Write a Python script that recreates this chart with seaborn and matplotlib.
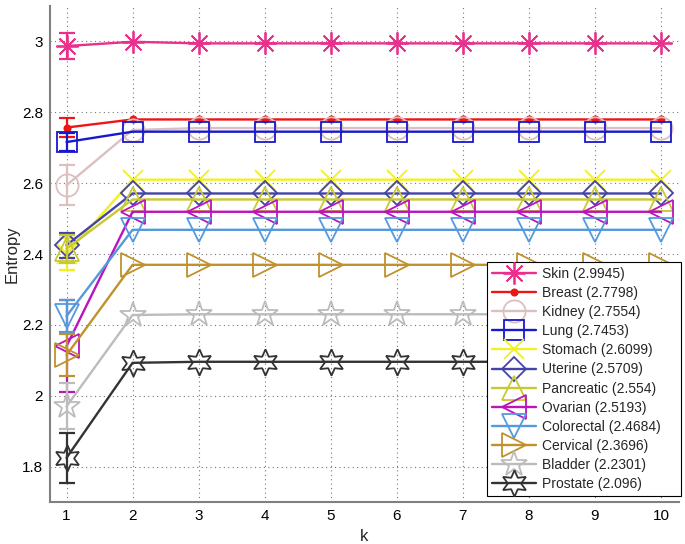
import numpy as np
import pandas as pd
import matplotlib
matplotlib.use("Agg")
import matplotlib.pyplot as plt
import seaborn as sns
from matplotlib.ticker import FuncFormatter

# ---------------- data ----------------
k = [1, 2, 3, 4, 5, 6, 7, 8, 9, 10]
names = ["Skin", "Breast", "Kidney", "Lung", "Stomach", "Uterine",
         "Pancreatic", "Ovarian", "Colorectal", "Cervical", "Bladder", "Prostate"]
legend_vals = ["2.9945", "2.7798", "2.7554", "2.7453", "2.6099", "2.5709",
               "2.554", "2.5193", "2.4684", "2.3696", "2.2301", "2.096"]
k1_mean = [2.987, 2.757, 2.594, 2.716, 2.400, 2.425, 2.415, 2.140, 2.225, 2.115, 1.970, 1.825]
k1_err = [0.038, 0.028, 0.056, 0.025, 0.045, 0.035, 0.040, 0.130, 0.045, 0.060, 0.065, 0.071]
k2_val = [2.999, 2.7798, 2.7500, 2.7453, 2.6099, 2.5709, 2.554, 2.5193, 2.4684, 2.3696, 2.2280, 2.093]
rest_val = [2.9945, 2.7798, 2.7554, 2.7453, 2.6099, 2.5709, 2.554, 2.5193, 2.4684, 2.3696, 2.2301, 2.096]

colors = ["#e8308c", "#ee1515", "#dcc0c0", "#1818cc", "#f2f022", "#4444a8",
          "#c8c832", "#bb14bb", "#5599dd", "#c0922c", "#bcbcbc", "#333333"]
markers = [(8, 2, 0), ".", "o", "s", "x", "D", "^", "<", "v", ">", "*", (6, 1, 0)]
msizes = [16, 9, 16, 14, 14, 12, 17, 17, 17, 17, 19, 19]

# ---------------- style ----------------
sns.set_style("white")
plt.rcParams["font.family"] = ["Liberation Sans", "DejaVu Sans"]

fig = plt.figure(figsize=(6.85, 5.44), dpi=100)
ax = fig.add_axes([0.073, 0.077, 0.918, 0.912])

for i, name in enumerate(names):
    ys = [k1_mean[i], k2_val[i]] + [rest_val[i]] * (len(k) - 2)
    df = pd.DataFrame({"k": k, "Entropy": ys})
    c = colors[i]
    filled = name == "Breast"
    sns.lineplot(data=df, x="k", y="Entropy", ax=ax, color=c, linewidth=1.7,
                 marker=markers[i], markersize=msizes[i],
                 markerfacecolor=c if filled else "none", markeredgecolor=c,
                 markeredgewidth=1.3,
                 label=f"{name} ({legend_vals[i]})")
    ax.errorbar([k[0]], [k1_mean[i]], yerr=[k1_err[i]], fmt="none", ecolor=c,
                elinewidth=1.6, capsize=6, capthick=1.6)

ax.set_xlim(0.75, 10.27)
ax.set_ylim(1.7, 3.1)
ax.set_xticks(k)
ax.set_yticks([1.8, 2.0, 2.2, 2.4, 2.6, 2.8, 3.0])
ax.yaxis.set_major_formatter(FuncFormatter(lambda v, p: f"{v:g}"))
ax.grid(True, linestyle=(0, (1, 3)), color="#777777", linewidth=0.8)
for s in ["top", "right"]:
    ax.spines[s].set_visible(False)
for s in ["left", "bottom"]:
    ax.spines[s].set_color("#808080")
    ax.spines[s].set_linewidth(1.5)
ax.tick_params(direction="in", length=4, width=1, color="#606060",
               labelsize=11, labelcolor="black", pad=5)
ax.set_xlabel("k", fontsize=12, labelpad=4)
ax.set_ylabel("Entropy", fontsize=12)
ax.yaxis.set_label_coords(-0.049, 0.5)

leg = ax.legend(loc="lower left",
                bbox_to_anchor=(487 / 685, 0.088, (681 - 487) / 685, 0.4),
                bbox_transform=fig.transFigure, mode="expand",
                fontsize=10, frameon=True,
                fancybox=False, framealpha=1, edgecolor="black",
                handlelength=3.2, labelspacing=0.37, borderpad=0.35,
                handletextpad=0.4, borderaxespad=0)
leg.get_frame().set_linewidth(0.8)

fig.savefig("out.png", dpi=100)
